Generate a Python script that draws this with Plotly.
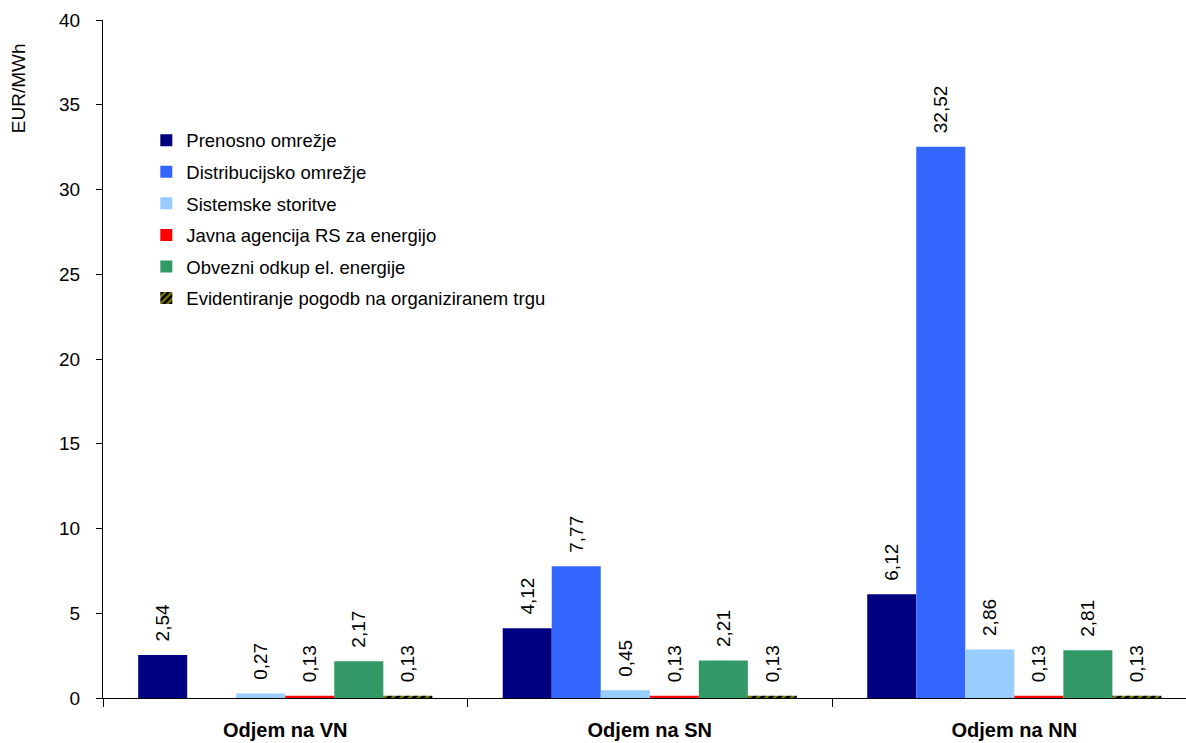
import plotly.graph_objects as go

categories = ["Odjem na VN", "Odjem na SN", "Odjem na NN"]

series_names = [
    "Prenosno omrežje",
    "Distribucijsko omrežje",
    "Sistemske storitve",
    "Javna agencija RS za energijo",
    "Obvezni odkup el. energije",
    "Evidentiranje pogodb na organiziranem trgu",
]

prenosno = [2.54, 4.12, 6.12]
distribucijsko = [None, 7.77, 32.52]
sistemske = [0.27, 0.45, 2.86]
agencija = [0.13, 0.13, 0.13]
odkup = [2.17, 2.21, 2.81]
evidentiranje = [0.13, 0.13, 0.13]

series_values = [prenosno, distribucijsko, sistemske, agencija, odkup, evidentiranje]

colors = ["#000080", "#3366FF", "#99CCFF", "#FF0000", "#339966", "#000000"]

y_ticks = [0, 5, 10, 15, 20, 25, 30, 35, 40]

FONT = "Liberation Sans, Arial, sans-serif"


def fmt(v):
    # value label with decimal comma; leading spaces lift it off the bar top
    if v is None:
        return ""
    return "\u00a0\u00a0" + f"{v:.2f}".replace(".", ",")


fig = go.Figure()
for i, (name, vals, col) in enumerate(zip(series_names, series_values, colors)):
    marker = dict(color=col, line=dict(width=0))
    if i == 5:
        marker = dict(
            color="#000000",
            line=dict(width=0),
            pattern=dict(shape="/", fgcolor="#FFFF00", bgcolor="#000000",
                         size=6, solidity=0.45),
        )
    fig.add_trace(go.Bar(
        x=categories,
        y=vals,
        name=name,
        marker=marker,
        text=[fmt(v) for v in vals],
        textposition="outside",
        textangle=-90,
        textfont=dict(family=FONT, size=19, color="#000000"),
        constraintext="none",
        cliponaxis=False,
        legendgroup=f"g{i}",
        hoverinfo="skip",
    ))

fig.update_layout(
    width=1186,
    height=743,
    margin=dict(l=103, r=0, t=20, b=45),
    paper_bgcolor="#FFFFFF",
    plot_bgcolor="#FFFFFF",
    barmode="group",
    bargap=0.193,
    bargroupgap=0,
    font=dict(family=FONT, size=18, color="#000000"),
    showlegend=True,
    legend=dict(
        x=0.04, y=0.85, xanchor="left", yanchor="top",
        bgcolor="rgba(0,0,0,0)",
        font=dict(family=FONT, size=18.5, color="#000000"),
        tracegroupgap=4.5,
        itemclick=False,
    ),
    xaxis=dict(
        range=[-0.5, 2.471],
        showline=True, linecolor="#000000", linewidth=1,
        ticks="outside", tickson="boundaries", ticklen=8, tickcolor="#000000",
        tickfont=dict(family=FONT, size=20, color="#000000", weight="bold"),
        ticklabelstandoff=14,
        showgrid=False,
        zeroline=False,
    ),
    yaxis=dict(
        range=[0, 40],
        tickvals=y_ticks,
        showline=True, linecolor="#000000", linewidth=1,
        ticks="outside", ticklen=6, tickcolor="#000000",
        tickfont=dict(family=FONT, size=19, color="#000000"),
        ticklabelstandoff=12,
        showgrid=False,
        zeroline=False,
    ),
    annotations=[
        dict(
            text="EUR/MWh", textangle=-90,
            xref="paper", yref="paper", x=-0.078, y=0.968,
            xanchor="center", yanchor="top", showarrow=False,
            font=dict(family=FONT, size=19, color="#000000"),
        )
    ],
)

fig.write_html("out.html")
